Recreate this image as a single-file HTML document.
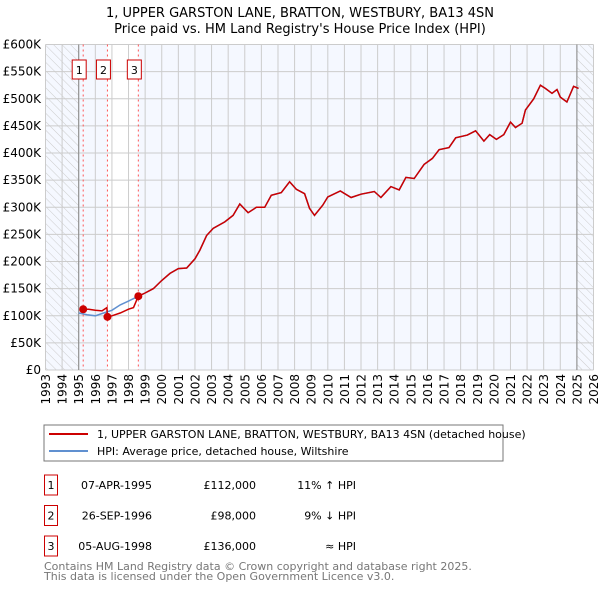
<!DOCTYPE html>
<html><head><meta charset="utf-8"><style>
body{margin:0;background:#fff;font-family:"DejaVu Sans","Liberation Sans",sans-serif;}
svg text{font-family:"DejaVu Sans","Liberation Sans",sans-serif;}
</style></head><body>
<svg id="chart" width="600" height="590" xmlns="http://www.w3.org/2000/svg">
<defs><pattern id="hatch" width="6" height="6" patternUnits="userSpaceOnUse" patternTransform="rotate(-45)"><line x1="0" y1="0" x2="0" y2="6" stroke="#ccc" stroke-width="1"/></pattern></defs>
<text x="300" y="17" font-size="13" text-anchor="middle">1, UPPER GARSTON LANE, BRATTON, WESTBURY, BA13 4SN</text>
<text x="300" y="33" font-size="13" text-anchor="middle">Price paid vs. HM Land Registry's House Price Index (HPI)</text>
<g id="plot"></g>
<g>
<rect x="44" y="425" width="459" height="36" fill="#fff" stroke="#777"/>
<line x1="49" y1="434" x2="88" y2="434" stroke="#cc0000" stroke-width="2"/>
<text x="97" y="438" font-size="11">1, UPPER GARSTON LANE, BRATTON, WESTBURY, BA13 4SN (detached house)</text>
<line x1="49" y1="451" x2="88" y2="451" stroke="#6090d0" stroke-width="2"/>
<text x="97" y="455" font-size="11">HPI: Average price, detached house, Wiltshire</text>
</g>
<g id="table" font-size="11"></g>
<text x="44" y="570" font-size="11" fill="#777">Contains HM Land Registry data © Crown copyright and database right 2025.</text>
<text x="44" y="580" font-size="11" fill="#777">This data is licensed under the Open Government Licence v3.0.</text>
</svg>
<script>
const hpiYears=[1995.0,1995.5,1996.0,1996.5,1997.0,1997.5,1998.0,1998.6,1999.0,1999.5,2000.0,2000.5,2001.0,2001.5,2002.0,2002.3,2002.7,2003.1,2003.8,2004.3,2004.7,2005.2,2005.7,2006.2,2006.6,2007.2,2007.7,2008.1,2008.6,2008.9,2009.2,2009.7,2010.0,2010.75,2011.4,2012.0,2012.8,2013.2,2013.8,2014.3,2014.7,2015.2,2015.8,2016.3,2016.7,2017.3,2017.7,2018.4,2018.9,2019.4,2019.75,2020.15,2020.6,2021.0,2021.3,2021.7,2021.9,2022.4,2022.8,2023.1,2023.5,2023.8,2024.0,2024.4,2024.8,2025.1];
const hpiValues=[105,102,100,105,110,120,127,136,142,150,165,178,187,188,205,221,248,261,273,285,306,290,300,300,322,327,347,333,325,298,285,304,319,330,318,324,329,318,338,332,355,353,379,390,406,410,428,433,441,422,434,425,434,457,447,455,479,500,525,519,510,517,503,494,523,519];
const priceEarlyYears=[1995.27,1995.6,1996.0,1996.4,1996.7,1996.73,1997.0,1997.5,1998.0,1998.3,1998.59];
const priceEarlyValues=[112,112,110,109,115,98,100,105,112,115,136];
const saleLabels=["1","2","3"];
const saleYears=[1995.27,1996.73,1998.59];
const saleValues=[112,98,136];
const saleDates=["07-APR-1995","26-SEP-1996","05-AUG-1998"];
const salePrices=["£112,000","£98,000","£136,000"];
const saleHpi=["11% ↑ HPI","9% ↓ HPI","≈ HPI"];
const yTicks=[0,50,100,150,200,250,300,350,400,450,500,550,600];
const yTickLabels=["£0","£50K","£100K","£150K","£200K","£250K","£300K","£350K","£400K","£450K","£500K","£550K","£600K"];

const NS="http://www.w3.org/2000/svg";
const X0=45.5,X1=593.5,Y0=370,Y1=44.5,YR0=1993,YR1=2026;
const xs=y=>X0+(y-YR0)/(YR1-YR0)*(X1-X0);
const ys=v=>Y0-v/600*(Y0-Y1);
const plot=document.getElementById('plot');
function mk(tag,attrs,parent){const e=document.createElementNS(NS,tag);for(const k in attrs)e.setAttribute(k,attrs[k]);(parent||plot).appendChild(e);return e;}

let e=mk('rect',{x:X0,y:Y1,width:X1-X0,height:Y0-Y1,fill:'#f5f8ff'});


e=mk('rect',{x:xs(1996.73),y:Y1,width:xs(1998.59)-xs(1996.73),height:Y0-Y1,fill:'#ffffff'});


e=mk('rect',{x:X0,y:Y1,width:xs(1995)-X0,height:Y0-Y1,fill:'url(#hatch)'});


e=mk('rect',{x:xs(2025),y:Y1,width:X1-xs(2025),height:Y0-Y1,fill:'url(#hatch)'});


for(let yr=YR0;yr<=YR1;yr++){
  e=mk('line',{x1:xs(yr),x2:xs(yr),y1:Y1,y2:Y0,stroke:'#cccccc','stroke-width':1});
  
  
  const tx=xs(yr)+4.5, ty=374;
  e=mk('text',{x:tx,y:ty,'font-size':12,'text-anchor':'end',transform:'rotate(-90 '+tx+' '+ty+')'});
  e.textContent=yr;
  
  
}
yTicks.forEach((v,i)=>{
  e=mk('line',{x1:X0,x2:X1,y1:ys(v),y2:ys(v),stroke:'#cccccc','stroke-width':1});
  
  
  e=mk('text',{x:41,y:ys(v)+4,'font-size':12,'text-anchor':'end'});
  e.textContent=yTickLabels[i];
  
  
});
[1995,2025].forEach(yr=>{
  e=mk('line',{x1:xs(yr),x2:xs(yr),y1:Y1,y2:Y0,stroke:'#888','stroke-width':1});
  
  
});
saleYears.forEach((yr,i)=>{
  e=mk('line',{x1:xs(yr),x2:xs(yr),y1:Y1,y2:Y0,stroke:'#ff5555','stroke-width':1,'stroke-dasharray':'2,3'});
  
  
  const g=mk('g',{});
  
  
  mk('rect',{x:xs(yr)-11,y:60,width:14,height:19,fill:'#fff',stroke:'#cc0000'},g);
  const t=mk('text',{x:xs(yr)-4,y:74,'font-size':11,'text-anchor':'middle'},g);
  t.textContent=saleLabels[i];
});
let d=hpiYears.map((y,i)=>(i?'L':'M')+xs(y).toFixed(1)+','+ys(hpiValues[i]).toFixed(1)).join('');
e=mk('path',{d:d,fill:'none',stroke:'#6090d0','stroke-width':1.5});


const iStart=hpiYears.indexOf(1998.6);
const pY=priceEarlyYears.concat(hpiYears.slice(iStart+1));
const pV=priceEarlyValues.concat(hpiValues.slice(iStart+1));
d=pY.map((y,i)=>(i?'L':'M')+xs(y).toFixed(1)+','+ys(pV[i]).toFixed(1)).join('');
e=mk('path',{d:d,fill:'none',stroke:'#cc0000','stroke-width':1.5});


saleYears.forEach((yr,i)=>{
  e=mk('circle',{cx:xs(yr),cy:ys(saleValues[i]),r:4,fill:'#cc0000'});
  
  
});
const tbl=document.getElementById('table');
saleLabels.forEach((l,i)=>{
  const y=485+i*30.5;
  const g=mk('g',{},tbl);
  
  
  mk('rect',{x:44.5,y:y-10,width:13,height:20,fill:'#fff',stroke:'#cc0000'},g);
  let t=mk('text',{x:51,y:y+4,'text-anchor':'middle'},g);t.textContent=l;
  t=mk('text',{x:152,y:y+4,'text-anchor':'end'},g);t.textContent=saleDates[i];
  t=mk('text',{x:256,y:y+4,'text-anchor':'end'},g);t.textContent=salePrices[i];
  t=mk('text',{x:356,y:y+4,'text-anchor':'end'},g);t.textContent=saleHpi[i];
});
</script>
</body></html>
